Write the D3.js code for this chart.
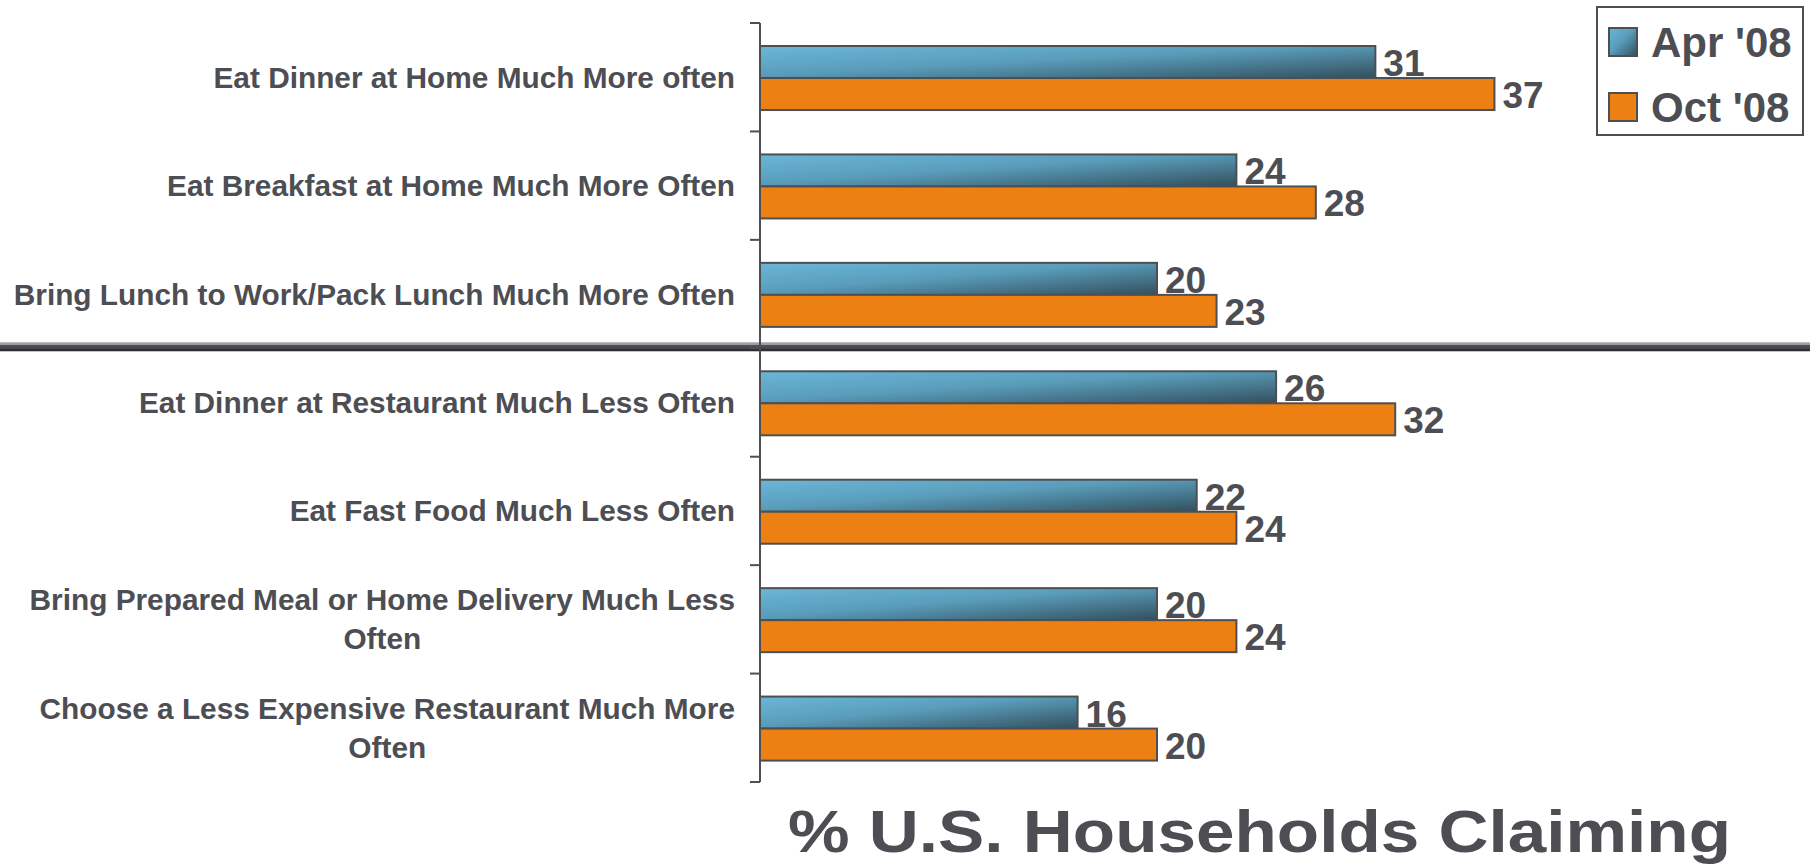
<!DOCTYPE html>
<html>
<head>
<meta charset="utf-8">
<script src="https://cdn.jsdelivr.net/npm/d3@7"></script>
<style>
  body { margin: 0; background: #fff; }
  text { font-family: "Liberation Sans", Arial, sans-serif; font-weight: bold; fill: #4d4e53; }
</style>
</head>
<body>
<div id="chart"></div>
<script>
var categories = [
    ["Eat Dinner at Home Much More often"],
    ["Eat Breakfast at Home Much More Often"],
    ["Bring Lunch to Work/Pack Lunch Much More Often"],
    ["Eat Dinner at Restaurant Much Less Often"],
    ["Eat Fast Food Much Less Often"],
    ["Bring Prepared Meal or Home Delivery Much Less", "Often"],
    ["Choose a Less Expensive Restaurant Much More", "Often"]
];
var series = ["Apr '08", "Oct '08"];
var apr = [31, 24, 20, 26, 22, 20, 16];
var oct = [37, 28, 23, 32, 24, 24, 20];
var title = "% U.S. Households Claiming";

var W = 1810, H = 864;
var axisX = 760, plotTop = 23, plotBottom = 782;

var svg = d3.select("#chart").append("svg")
    .attr("width", W)
    .attr("height", H);

var defs = svg.append("defs");
var gBlue = defs.append("linearGradient")
    .attr("id", "blue")
    .attr("x1", 0).attr("y1", 0).attr("x2", 1).attr("y2", 1);
gBlue.append("stop").attr("offset", "0%").attr("stop-color", "#6bb6d8");
gBlue.append("stop").attr("offset", "45%").attr("stop-color", "#5a9dbb");
gBlue.append("stop").attr("offset", "100%").attr("stop-color", "#324f5d");

var gDiv = defs.append("linearGradient")
    .attr("id", "divider")
    .attr("x1", 0).attr("y1", 0).attr("x2", 0).attr("y2", 1);
gDiv.append("stop").attr("offset", "0%").attr("stop-color", "#a4a5a8");
gDiv.append("stop").attr("offset", "30%").attr("stop-color", "#9a9b9e");
gDiv.append("stop").attr("offset", "35%").attr("stop-color", "#515256");
gDiv.append("stop").attr("offset", "75%").attr("stop-color", "#45464a");
gDiv.append("stop").attr("offset", "80%").attr("stop-color", "#2e2f33");
gDiv.append("stop").attr("offset", "100%").attr("stop-color", "#2e2f33");

var fills = { "Apr '08": "url(#blue)", "Oct '08": "#ed8013" };

var x = d3.scaleLinear()
    .domain([0, 40])
    .range([axisX, axisX + 40 * 19.85]);

var y = d3.scaleBand()
    .domain(d3.range(categories.length))
    .range([plotTop, plotBottom]);

var bw = y.bandwidth();
var y1 = d3.scaleBand()
    .domain(series)
    .range([bw * 23 / 108.4, bw * 87 / 108.4]);

var rows = categories.map(function(c, i) {
    return { i: i, label: c, values: [
        { s: series[0], v: apr[i] },
        { s: series[1], v: oct[i] }
    ] };
});

// divider between the "at home" and "less often" groups
svg.append("rect")
    .attr("x", 0)
    .attr("y", y(3) - 6)
    .attr("width", W)
    .attr("height", 9)
    .attr("fill", "url(#divider)");

var row = svg.selectAll(".row")
    .data(rows)
    .enter()
    .append("g")
    .attr("class", "row")
    .attr("transform", function(d) { return "translate(0," + y(d.i) + ")"; });

row.selectAll("rect")
    .data(function(d) { return d.values; })
    .enter()
    .append("rect")
    .attr("x", x(0))
    .attr("y", function(d) { return y1(d.s); })
    .attr("width", function(d) { return x(d.v) - x(0); })
    .attr("height", y1.bandwidth())
    .attr("fill", function(d) { return fills[d.s]; })
    .attr("stroke", "#4e4f53")
    .attr("stroke-width", 2);

row.selectAll(".val")
    .data(function(d) { return d.values; })
    .enter()
    .append("text")
    .attr("class", "val")
    .attr("x", function(d) { return x(d.v) + 8; })
    .attr("y", function(d) { return y1(d.s) + y1.bandwidth() - 2; })
    .style("font-size", "37px")
    .text(function(d) { return d.v; });

// category labels: block right aligned, lines centred within the block
row.each(function(d) {
    var g = d3.select(this);
    var n = d.label.length, lh = 39;
    var t = g.selectAll(".lab")
        .data(d.label)
        .enter()
        .append("text")
        .attr("class", "lab")
        .style("font-size", "29.8px")
        .attr("y", function(s, k) { return bw / 2 + 10.5 + (k - (n - 1) / 2) * lh; })
        .text(function(s) { return s; });
    var maxW = d3.max(t.nodes(), function(nd) { return nd.getComputedTextLength(); });
    var right = 735;
    if (n === 1) {
        t.attr("x", right).attr("text-anchor", "end");
    } else {
        t.attr("x", right - maxW / 2).attr("text-anchor", "middle");
    }
});

// axis
svg.append("line")
    .attr("x1", axisX).attr("x2", axisX)
    .attr("y1", plotTop).attr("y2", plotBottom)
    .attr("stroke", "#4e4f53")
    .attr("stroke-width", 2);

svg.selectAll(".tick")
    .data(d3.range(categories.length + 1))
    .enter()
    .append("line")
    .attr("class", "tick")
    .attr("x1", axisX - 10).attr("x2", axisX)
    .attr("y1", function(k) { return plotTop + k * bw; })
    .attr("y2", function(k) { return plotTop + k * bw; })
    .attr("stroke", "#4e4f53")
    .attr("stroke-width", 2);

// legend
var legend = svg.append("g").attr("transform", "translate(1597,7)");
legend.append("rect")
    .attr("width", 206).attr("height", 128)
    .attr("fill", "#fff")
    .attr("stroke", "#4e4f53")
    .attr("stroke-width", 2);
var li = legend.selectAll(".li")
    .data(series)
    .enter()
    .append("g")
    .attr("transform", function(d, k) { return "translate(12," + (21 + k * 65) + ")"; });
li.append("rect")
    .attr("width", 28).attr("height", 28)
    .attr("fill", function(d) { return fills[d]; })
    .attr("stroke", "#4e4f53")
    .attr("stroke-width", 2);
li.append("text")
    .attr("x", 42)
    .attr("y", 29)
    .style("font-size", "42px")
    .text(function(d) { return d; });

svg.append("text")
    .attr("x", 788)
    .attr("y", 852)
    .attr("textLength", 943)
    .attr("lengthAdjust", "spacingAndGlyphs")
    .style("font-size", "59px")
    .text(title);
</script>
</body>
</html>
